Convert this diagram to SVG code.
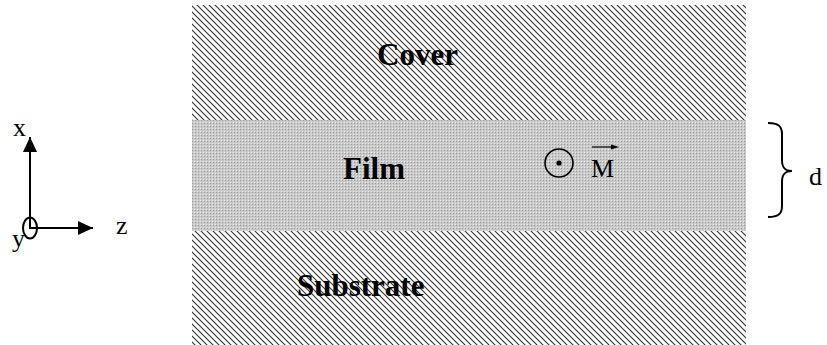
<svg xmlns="http://www.w3.org/2000/svg" width="827" height="345" viewBox="0 0 827 345">
  <style>
    .lbl { font-family: "Liberation Serif", "Times New Roman", serif; font-weight: bold; font-size: 31px; fill: #000; }
    .txt { font-family: "Liberation Serif", "Times New Roman", serif; font-size: 26px; fill: #000; }
    .ax { stroke: #000; stroke-width: 2; fill: none; }
  </style>
  <defs>
    <pattern id="hatch" patternUnits="userSpaceOnUse" width="6" height="6">
      <rect width="6" height="6" fill="#fff"/>
      <path d="M-1,-1 L7,7 M-1,5 L1,7 M5,-1 L7,1" stroke="#3a3a3a" stroke-width="1.2"/>
    </pattern>
    <pattern id="dots" patternUnits="userSpaceOnUse" width="3" height="3">
      <rect width="3" height="3" fill="#c9c9c9"/>
      <rect x="0" y="0" width="1" height="1" fill="#9a9a9a"/>
      <rect x="2" y="2" width="1" height="1" fill="#ececec"/>
    </pattern>
    <marker id="tri" viewBox="0 0 15 14" refX="15" refY="7" markerWidth="15" markerHeight="14" markerUnits="userSpaceOnUse" orient="auto">
      <path d="M0,0 L15,7 L0,14 Z" fill="#000"/>
    </marker>
  </defs>

  <g id="cover">
    <rect x="192" y="5" width="554" height="115" fill="url(#hatch)"/>
    <text class="lbl" x="377" y="65">Cover</text>
  </g>
  <g id="film">
    <rect x="192" y="120" width="554" height="111" fill="url(#dots)"/>
    <text class="lbl" x="343" y="179">Film</text>
    <circle cx="559" cy="163" r="14" fill="none" stroke="#000" stroke-width="1.6"/>
    <circle cx="559" cy="163" r="2.6" fill="#000"/>
    <text class="txt" x="591" y="177" font-size="29">M</text>
    <path d="M592,147 L612,147" stroke="#000" stroke-width="1.2"/>
    <path d="M619,147 L611,144.5 L611,149.5 Z" fill="#000"/>
  </g>
  <g id="substrate">
    <rect x="192" y="231" width="554" height="114" fill="url(#hatch)"/>
    <text class="lbl" x="297" y="296">Substrate</text>
  </g>

  <g id="thickness">
    <path class="ax" stroke-width="1.8" d="M768,123 C778,123 782,126 782,134 L782,160 C782,168 785,171 792,171 C785,171 782,174 782,182 L782,206 C782,214 778,217 768,217"/>
    <text class="txt" x="809" y="185" font-size="28">d</text>
  </g>

  <g id="connectors">
    <path class="ax" d="M30,229 L30,137" marker-end="url(#tri)"/>
    <path class="ax" d="M30,228 L93,228" marker-end="url(#tri)"/>
  </g>
  <g id="axes">
    <ellipse cx="30" cy="228" rx="7" ry="10.5" class="ax"/>
    <text class="txt" x="13" y="136" font-size="25">x</text>
    <text class="txt" x="12" y="247" font-size="25">y</text>
    <text class="txt" x="116" y="234" font-size="25">z</text>
  </g>
</svg>
